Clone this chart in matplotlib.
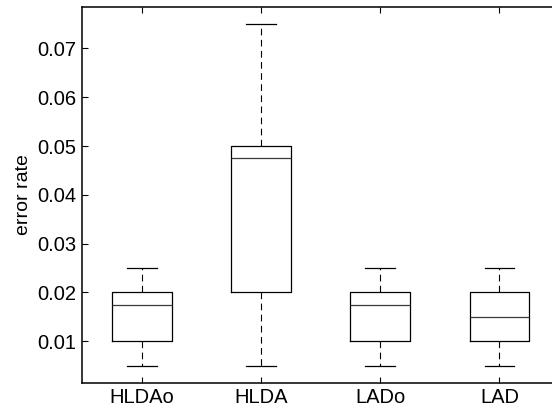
import matplotlib

matplotlib.use("Agg")
import matplotlib.pyplot as plt  # noqa: E402

plt.rcParams.update(
    {
        "font.family": ["Liberation Sans", "DejaVu Sans"],
        "font.size": 14.5,
    }
)

# per-method box statistics (error rate)
methods = ["HLDAo", "HLDA", "LADo", "LAD"]
whisker_low = [0.005, 0.005, 0.005, 0.005]
quart_low = [0.010, 0.020, 0.010, 0.010]
medians = [0.0175, 0.0475, 0.0175, 0.015]
quart_high = [0.020, 0.050, 0.020, 0.020]
whisker_high = [0.025, 0.075, 0.025, 0.025]
y_ticks = [0.01, 0.02, 0.03, 0.04, 0.05, 0.06, 0.07]


def main():
    stats = [
        dict(label=m, whislo=lo, q1=a, med=md, q3=b, whishi=hi, fliers=[])
        for m, lo, a, md, b, hi in zip(
            methods, whisker_low, quart_low, medians, quart_high, whisker_high
        )
    ]

    fig = plt.figure(figsize=(5.52, 4.09), dpi=100)
    # axes runs slightly past the right edge, as in the cropped original
    ax = fig.add_axes([0.1491, 0.0643, 0.8636, 0.9186])
    ax.bxp(
        stats,
        positions=range(1, len(methods) + 1),
        widths=0.5,
        capwidths=0.25,
        showfliers=False,
        boxprops=dict(color="black", linewidth=0.9),
        medianprops=dict(color="#3a3a3a", linewidth=0.9),
        whiskerprops=dict(color="black", linewidth=0.8, linestyle=(0, (6, 4))),
        capprops=dict(color="black", linewidth=0.9),
    )

    ax.set_xlim(0.5, 4.5)
    ax.set_ylim(0.0015, 0.0785)
    ax.set_yticks(y_ticks)
    ax.set_yticklabels([f"{t:.2f}" for t in y_ticks])
    ax.set_xticks(range(1, len(methods) + 1))
    ax.set_xticklabels(methods)
    ax.tick_params(direction="in", length=4, width=0.8, pad=4,
                   top=True, right=True)
    for s in ax.spines.values():
        s.set_linewidth(1.1)
    ax.set_ylabel("error rate", fontsize=14)
    ax.yaxis.set_label_coords(-0.106, 0.5)

    fig.savefig("out.png", dpi=100)


if __name__ == "__main__":
    main()
